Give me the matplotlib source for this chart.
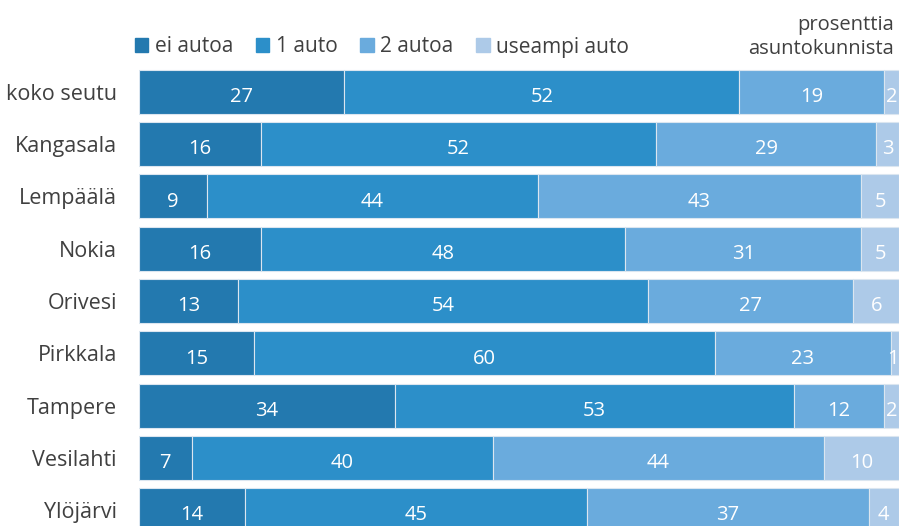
import matplotlib.pyplot as plt
from matplotlib.patches import Patch

plt.rcParams['font.family'] = ['Open Sans', 'DejaVu Sans']

# Data
alueet = ['koko seutu', 'Kangasala', 'Lempäälä', 'Nokia', 'Orivesi',
          'Pirkkala', 'Tampere', 'Vesilahti', 'Ylöjärvi']
ei_autoa = [27, 16, 9, 16, 13, 15, 34, 7, 14]
yksi_auto = [52, 52, 44, 48, 54, 60, 53, 40, 45]
kaksi_autoa = [19, 29, 43, 31, 27, 23, 12, 44, 37]
useampi_auto = [2, 3, 5, 5, 6, 1, 2, 10, 4]
sarjat = ['ei autoa', '1 auto', '2 autoa', 'useampi auto']
varit = ['#2379AF', '#2C8FC9', '#6AABDD', '#ADCAE8']

W, H = 899, 526
fig = plt.figure(figsize=(W / 100, H / 100), dpi=100)
# axes from y=65px to bottom, x=139px to right edge
ax = fig.add_axes([139 / W, 0, 1 - 139 / W, (H - 65) / H])

pitch = 52.3
c0 = 91.8
top = (65 - c0) / pitch
bottom = (H - c0) / pitch
ax.set_ylim(bottom, top)
ax.set_xlim(0, 100)

sarjadata = [ei_autoa, yksi_auto, kaksi_autoa, useampi_auto]
summat = [sum(r) for r in zip(*sarjadata)]

y = list(range(len(alueet)))
left = [0] * len(alueet)
for vals, col in zip(sarjadata, varit):
    osuus = [v / s * 100 for v, s in zip(vals, summat)]  # 100 % pinottu
    ax.barh(y, osuus, left=left, height=0.84, color=col,
            edgecolor='#dbe6f0', linewidth=0.8)
    for i, v in enumerate(vals):
        xpos = min(left[i] + osuus[i] / 2, 99.2)  # ei yli reunan
        ax.text(xpos, i + 0.1, str(v), ha='center', va='center',
                color='white', fontsize=14.5)
    left = [l + o for l, o in zip(left, osuus)]

ax.set_yticks(y)
ax.set_yticklabels(alueet, fontsize=15.5, color='#404040')
ax.tick_params(axis='y', length=0, pad=16)
ax.set_xticks([])
for s in ax.spines.values():
    s.set_visible(False)

handles = [Patch(color=c) for c in varit]
fig.legend(handles, sarjat, loc='center left', bbox_to_anchor=(116 / W, 1 - 47 / H),
           ncol=4, frameon=False, fontsize=15, handlelength=0.65, handleheight=0.65,
           handletextpad=0.3, columnspacing=1.1, labelcolor='#404040')

fig.text(894 / W, 1 - 37 / H, 'prosenttia\nasuntokunnista', ha='right', va='center',
         fontsize=14.5, color='#404040', linespacing=1.25)

fig.savefig('out.png', dpi=100)
